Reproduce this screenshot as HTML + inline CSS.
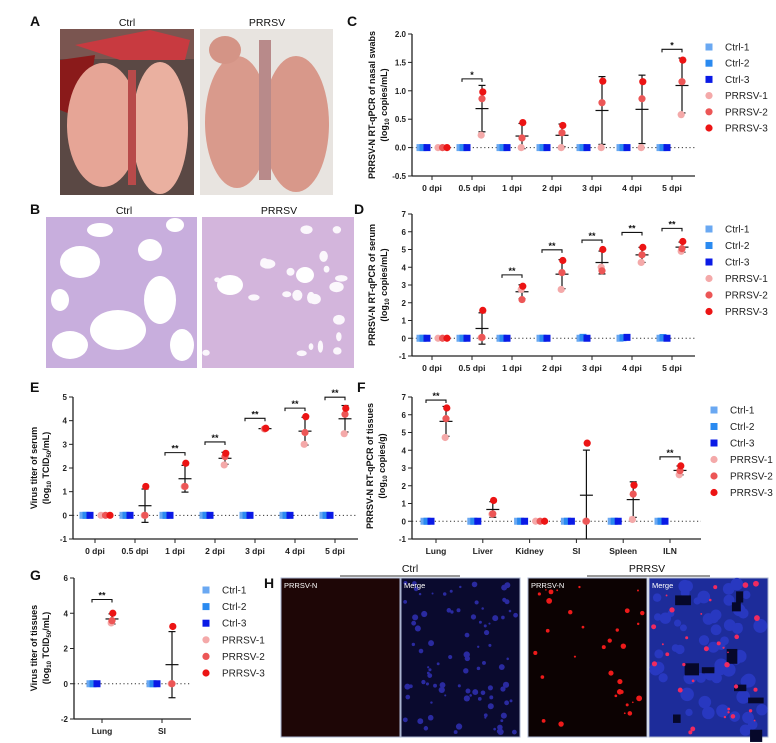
<!DOCTYPE html>
<html><head><meta charset="utf-8">
<style>
html,body{margin:0;padding:0;background:#fff;}
svg{display:block;font-family:"Liberation Sans",Arial,sans-serif;}
.tk{font-size:8px;font-weight:bold;fill:#222;}
.cat{font-size:8.5px;font-weight:bold;fill:#222;}
.lg{font-size:10px;fill:#222;}
.ttl{font-size:9px;font-weight:bold;fill:#111;}
.pl{font-size:14px;font-weight:bold;fill:#111;}
.cap{font-size:10.5px;fill:#111;}
.star{font-size:9px;font-weight:bold;fill:#111;}
</style></head>
<body>
<svg id="fig" width="776" height="743" viewBox="0 0 776 743">
  <text class="pl" x="30" y="26">A</text>
  <text class="cap" x="127" y="26" text-anchor="middle">Ctrl</text>
  <text class="cap" x="267" y="26" text-anchor="middle">PRRSV</text>
  <g>
    <rect x="60" y="29" width="134" height="166" fill="#5a4844"/>
    <rect x="60" y="29" width="134" height="30" fill="#7a5550"/>
    <path d="M75 45 L150 30 L190 40 L185 60 L120 60 Z" fill="#c83a40"/>
    <path d="M60 60 L95 55 L85 120 L60 110 Z" fill="#8a1a1a"/>
    <ellipse cx="103" cy="125" rx="36" ry="62" fill="#e6a596"/>
    <ellipse cx="160" cy="128" rx="28" ry="66" fill="#eab0a0"/>
    <rect x="128" y="70" width="8" height="115" fill="#b84a4a"/>
  </g>
  <g>
    <rect x="200" y="29" width="133" height="166" fill="#e8e4e0"/>
    <ellipse cx="237" cy="122" rx="32" ry="66" fill="#d99a8c"/>
    <ellipse cx="296" cy="124" rx="33" ry="68" fill="#d8988a"/>
    <ellipse cx="225" cy="50" rx="16" ry="14" fill="#d49486"/>
    <rect x="259" y="40" width="12" height="140" fill="#b88a8a"/>
  </g>
  <text class="pl" x="30" y="214">B</text>
  <text class="cap" x="124" y="214" text-anchor="middle">Ctrl</text>
  <text class="cap" x="279" y="214" text-anchor="middle">PRRSV</text>
  <g id="histoCtrl">
    <rect x="46" y="217" width="151" height="151" fill="#c8aedd"/>
  </g>
  <g id="histoPrrsv">
    <rect x="202" y="217" width="152" height="151" fill="#d3b5dc"/>
  </g>
  <text class="pl" x="347" y="26">C</text>
  <text class="pl" x="354" y="214">D</text>
  <text class="pl" x="30" y="392">E</text>
  <text class="pl" x="357" y="392">F</text>
  <text class="pl" x="30" y="580">G</text>
  <text class="pl" x="264" y="588">H</text>
  <text class="cap" x="410" y="572" text-anchor="middle">Ctrl</text>
  <line x1="340" y1="576" x2="460" y2="576" stroke="#333" stroke-width="1"/>
  <text class="cap" x="647" y="572" text-anchor="middle">PRRSV</text>
  <line x1="587" y1="576" x2="710" y2="576" stroke="#333" stroke-width="1"/>
  <g id="hTiles"></g>
  <g id="charts"></g>
</svg>
<script>
const seriesNames = ['Ctrl-1','Ctrl-2','Ctrl-3','PRRSV-1','PRRSV-2','PRRSV-3'];
const dpiCats = ['0 dpi','0.5 dpi','1 dpi','2 dpi','3 dpi','4 dpi','5 dpi'];
const tissueCats = ['Lung','Liver','Kidney','SI','Spleen','ILN'];
const titerCats = ['Lung','SI'];

const cTicks = [2.0,1.5,1.0,0.5,0.0,-0.5];
const cCtrl1 = [0,0,0,0,0,0,0];
const cCtrl2 = [0,0,0,0,0,0,0];
const cCtrl3 = [0,0,0,0,0,0,0];
const cP1 = [0,0.22,0,0,0,0,0.58];
const cP2 = [0,0.86,0.17,0.26,0.79,0.86,1.16];
const cP3 = [0,0.98,0.44,0.39,1.17,1.16,1.54];
const cSigIdx = [1,6];
const cSigY = [1.21,1.73];
const cSigLbl = ['*','*'];

const dTicks = [7,6,5,4,3,2,1,0,-1];
const dCtrl1 = [0,0,0,0,0,0,0];
const dCtrl2 = [0,0,0,0,0.05,0.03,0.04];
const dCtrl3 = [0,0,0,0,0,0.05,0];
const dP1 = [0,0.03,2.75,2.75,4.0,4.27,4.9];
const dP2 = [0,0.05,2.18,3.7,3.8,4.7,5.05];
const dP3 = [0,1.57,2.93,4.38,5.0,5.12,5.45];
const dSigIdx = [2,3,4,5,6];
const dSigY = [3.57,4.98,5.53,5.96,6.19];
const dSigLbl = ['**','**','**','**','**'];

const eTicks = [5,4,3,2,1,0,-1];
const eCtrl1 = [0,0,0,0,0,0,0];
const eCtrl2 = [0,0,0,0,0,0,0];
const eCtrl3 = [0,0,0,0,0,0,0];
const eP1 = [0,0,1.22,2.13,3.65,3.0,3.45];
const eP2 = [0,0,1.22,2.48,3.66,3.5,4.27];
const eP3 = [0,1.22,2.2,2.62,3.68,4.17,4.52];
const eSigIdx = [2,3,4,5,6];
const eSigY = [2.65,3.1,4.1,4.53,4.99];
const eSigLbl = ['**','**','**','**','**'];

const fTicks = [7,6,5,4,3,2,1,0,-1];
const fCtrl1 = [0,0,0,0,0,0];
const fCtrl2 = [0,0,0,0,0,0];
const fCtrl3 = [0,0,0,0,0,0];
const fP1 = [4.72,0.4,0,0,0.1,2.62];
const fP2 = [5.78,0.42,0,0,1.53,2.85];
const fP3 = [6.38,1.17,0,4.4,2.03,3.12];
const fSigIdx = [0,5];
const fSigY = [6.83,3.63];
const fSigLbl = ['**','**'];

const gTicks = [6,4,2,0,-2];
const gCtrl1 = [0,0];
const gCtrl2 = [0,0];
const gCtrl3 = [0,0];
const gP1 = [3.45,0];
const gP2 = [3.58,0];
const gP3 = [4.0,3.25];
const gSigIdx = [0];
const gSigY = [4.78];
const gSigLbl = ['**'];

const colors = ['#6aa8f2','#2a8af0','#0a1ae6','#f4a9a9','#ec5656','#ec1414'];
const NS='http://www.w3.org/2000/svg';
function mk(tag, attrs, parent){
  const e=document.createElementNS(NS,tag);
  for(const k in attrs) e.setAttribute(k,attrs[k]);
  if(parent) parent.appendChild(e);
  return e;
}
function meanOf(a){return a.reduce((s,v)=>s+v,0)/a.length;}
function sdOf(a){const m=meanOf(a);return Math.sqrt(a.reduce((s,v)=>s+(v-m)*(v-m),0)/(a.length-1));}

function drawChart(cfg){
  const root=document.getElementById('charts');
  const g=mk('g',{},root);
  
  
  const vmin=cfg.ticks[cfg.ticks.length-1], vmax=cfg.ticks[0];
  const yS=v=>cfg.yBot-(v-vmin)*(cfg.yBot-cfg.yTop)/(vmax-vmin);
  const xS=i=>cfg.x0+i*cfg.step;
  const ya=mk('line',{x1:cfg.ax,y1:cfg.yTop,x2:cfg.ax,y2:cfg.yBot,stroke:'#222','stroke-width':1.3},g);
  
  
  const xa=mk('line',{x1:cfg.ax,y1:cfg.yBot,x2:cfg.xEnd,y2:cfg.yBot,stroke:'#222','stroke-width':1.3},g);
  
  
  cfg.ticks.forEach(t=>{
    const y=yS(t);
    mk('line',{x1:cfg.ax-4,y1:y,x2:cfg.ax,y2:y,stroke:'#222','stroke-width':1},g);
    const tx=mk('text',{x:cfg.ax-6,y:y+3,'text-anchor':'end',class:'tk'},g);
    tx.textContent=cfg.fmt?t.toFixed(1):String(t);
    
    
  });
  const z=mk('line',{x1:cfg.ax,y1:yS(0),x2:cfg.xEnd,y2:yS(0),stroke:'#333','stroke-width':1,'stroke-dasharray':'1.2,2.6'},g);
  
  
  cfg.cats.forEach((c,i)=>{
    const x=xS(i);
    mk('line',{x1:x,y1:cfg.yBot,x2:x,y2:cfg.yBot+4,stroke:'#222','stroke-width':1},g);
    const tx=mk('text',{x:x,y:cfg.yBot+15,'text-anchor':'middle',class:'cat'},g);
    tx.textContent=c;
    
    
  });
  const tt=mk('text',{class:'ttl','text-anchor':'middle',transform:`translate(${cfg.tx1},${cfg.tyc}) rotate(-90)`},g);
  tt.textContent=cfg.title1;
  
  
  const t2=mk('text',{class:'ttl','text-anchor':'middle',transform:`translate(${cfg.tx1+12},${cfg.tyc}) rotate(-90)`},g);
  t2.innerHTML=cfg.title2;
  
  
  const ctrlDx=[-12,-9,-5];
  cfg.ctrl.forEach((arr,s)=>{
    arr.forEach((v,i)=>{
      const r=mk('rect',{x:xS(i)+ctrlDx[s]-3.5,y:yS(v)-3.5,width:7,height:7,fill:colors[s]},g);
      
      
    });
  });
  const pDx=[7,10,13];
  cfg.cats.forEach((c,i)=>{
    const vals=cfg.prrsv.map(a=>a[i]);
    const m=meanOf(vals), sd=sdOf(vals);
    if(sd>0.001){
      const cx=xS(i)+10;
      const eg=mk('g',{stroke:'#111','stroke-width':1.2},g);
      
      
      mk('line',{x1:cx,y1:yS(m+sd),x2:cx,y2:Math.min(yS(m-sd),cfg.yBot)},eg);
      mk('line',{x1:cx-3.5,y1:yS(m+sd),x2:cx+3.5,y2:yS(m+sd)},eg);
      if(yS(m-sd)<cfg.yBot) mk('line',{x1:cx-3.5,y1:yS(m-sd),x2:cx+3.5,y2:yS(m-sd)},eg);
      mk('line',{x1:cx-6.5,y1:yS(m),x2:cx+6.5,y2:yS(m)},eg);
    }
  });
  cfg.prrsv.forEach((arr,s)=>{
    arr.forEach((v,i)=>{
      const allZero=cfg.prrsv.every(a=>Math.abs(a[i]-v)<0.01);
      const dx=allZero?pDx[s]-1+ s*1.5 : 10+(s-1)*0.8;
      const ci=mk('circle',{cx:xS(i)+dx,cy:yS(v),r:3.6,fill:colors[s+3]},g);
      
      
    });
  });
  cfg.sigIdx.forEach((idx,k)=>{
    const y=yS(cfg.sigY[k]);
    const x1=xS(idx)-10, x2=xS(idx)+10;
    const b=mk('path',{d:`M${x1} ${y+3} V${y} H${x2} V${y+3}`,fill:'none',stroke:'#111','stroke-width':1.1},g);
    
    
    const st=mk('text',{x:(x1+x2)/2,y:y-1,'text-anchor':'middle',class:'star'},g);
    st.textContent=cfg.sigLbl[k];
    
    
  });
  if(cfg.legend){
    seriesNames.forEach((n,s)=>{
      const y=cfg.lgY[s];
      let m;
      if(s<3) m=mk('rect',{x:cfg.lgX-3.5,y:y-3.5,width:7,height:7,fill:colors[s]},g);
      else m=mk('circle',{cx:cfg.lgX,cy:y,r:3.6,fill:colors[s]},g);
      
      
      const t=mk('text',{x:cfg.lgX+16,y:y+3.5,class:'lg'},g);
      t.textContent=n;
      
      
    });
  }
}
function lgSeq(y0,d){return [0,1,2,3,4,5].map(k=>y0+k*d);}
const sub10='(log<tspan font-size="6" dy="2">10</tspan><tspan dy="-2"> copies/mL)</tspan>';
const subT='(log<tspan font-size="6" dy="2">10</tspan><tspan dy="-2"> TCID</tspan><tspan font-size="6" dy="2">50</tspan><tspan dy="-2">/mL)</tspan>';
drawChart({name:'chart-c-nasal-swabs',ticks:cTicks,fmt:true,ax:412,xEnd:695,yTop:34,yBot:176,x0:432,step:40,cats:dpiCats,
  ctrl:[cCtrl1,cCtrl2,cCtrl3],prrsv:[cP1,cP2,cP3],sigIdx:cSigIdx,sigY:cSigY,sigLbl:cSigLbl,
  title1:'PRRSV-N RT-qPCR of nasal swabs',title2:sub10,tx1:375,tyc:105,legend:true,lgX:709,lgY:lgSeq(47,16.2)});
drawChart({name:'chart-d-serum-rtqpcr',ticks:dTicks,ax:412,xEnd:695,yTop:214,yBot:356,x0:432,step:40,cats:dpiCats,
  ctrl:[dCtrl1,dCtrl2,dCtrl3],prrsv:[dP1,dP2,dP3],sigIdx:dSigIdx,sigY:dSigY,sigLbl:dSigLbl,
  title1:'PRRSV-N RT-qPCR of serum',title2:sub10,tx1:375,tyc:285,legend:true,lgX:709,lgY:lgSeq(229,16.5)});
drawChart({name:'chart-e-serum-titer',ticks:eTicks,ax:73,xEnd:358,yTop:397,yBot:539,x0:95,step:40,cats:dpiCats,
  ctrl:[eCtrl1,eCtrl2,eCtrl3],prrsv:[eP1,eP2,eP3],sigIdx:eSigIdx,sigY:eSigY,sigLbl:eSigLbl,
  title1:'Virus titer of serum',title2:subT,tx1:37,tyc:468,legend:false});
drawChart({name:'chart-f-tissue-rtqpcr',ticks:fTicks,ax:412,xEnd:701,yTop:397,yBot:539,x0:436,step:46.8,cats:tissueCats,
  ctrl:[fCtrl1,fCtrl2,fCtrl3],prrsv:[fP1,fP2,fP3],sigIdx:fSigIdx,sigY:fSigY,sigLbl:fSigLbl,
  title1:'PRRSV-N RT-qPCR of tissues',title2:'(log<tspan font-size="6" dy="2">10</tspan><tspan dy="-2"> copies/g)</tspan>',tx1:373,tyc:466,legend:true,lgX:714,lgY:lgSeq(410,16.5)});
drawChart({name:'chart-g-tissue-titer',ticks:gTicks,ax:74,xEnd:191,yTop:578,yBot:719,x0:102,step:60,cats:titerCats,
  ctrl:[gCtrl1,gCtrl2,gCtrl3],prrsv:[gP1,gP2,gP3],sigIdx:gSigIdx,sigY:gSigY,sigLbl:gSigLbl,
  title1:'Virus titer of tissues',title2:subT,tx1:37,tyc:648,legend:true,lgX:206,lgY:lgSeq(590,16.6)});

let seed=7;function rnd(){seed=(seed*16807)%2147483647;return seed/2147483647;}
const hc=document.getElementById('histoCtrl');
[[80,262,20,16],[118,330,28,20],[160,300,16,24],[70,345,18,14],[150,250,12,11],[182,345,12,16],[100,230,13,7],[175,225,9,7],[60,300,9,11]].forEach(h=>{
  mk('ellipse',{cx:h[0],cy:h[1],rx:h[2],ry:h[3],fill:'#fff'},hc);
});
const hp=document.getElementById('histoPrrsv');
for(let k=0;k<22;k++){mk('ellipse',{cx:206+rnd()*144,cy:222+rnd()*142,rx:2+rnd()*6,ry:2+rnd()*5,fill:'#fbf7fc'},hp);}
mk('ellipse',{cx:230,cy:285,rx:13,ry:10,fill:'#fff'},hp);
mk('ellipse',{cx:305,cy:275,rx:9,ry:8,fill:'#fff'},hp);
const ht=document.getElementById('hTiles');
const tiles=[[281,'#1e0606','PRRSV-N'],[401,'#0a0a2e','Merge'],[528,'#0c0202','PRRSV-N'],[649,'#1d2c9a','Merge']];
tiles.forEach((t,i)=>{
  mk('rect',{x:t[0],y:578,width:119,height:159,fill:t[1],stroke:'#aab4d0','stroke-width':1},ht);
  if(i==1){for(let k=0;k<90;k++) mk('circle',{cx:t[0]+4+rnd()*111,cy:582+rnd()*151,r:1+rnd()*2.2,fill:'#2a2aa0'},ht);}
  if(i==3){for(let k=0;k<60;k++) mk('circle',{cx:t[0]+4+rnd()*111,cy:582+rnd()*151,r:3+rnd()*4,fill:'#2838c0'},ht);
    for(let k=0;k<10;k++) mk('rect',{x:t[0]+8+rnd()*100,y:590+rnd()*140,width:6+rnd()*10,height:5+rnd()*10,fill:'#06082a'},ht);}
  if(i>=2){for(let k=0;k<32;k++) mk('circle',{cx:t[0]+4+rnd()*111,cy:582+rnd()*151,r:0.8+rnd()*2.2,fill:i==2?'#ee1a1a':'#f02a60'},ht);}
  const lb=mk('text',{x:t[0]+3,y:588,fill:'#fff','font-size':'7.5'},ht);
  lb.textContent=t[2];
  
  
});
</script>
</body></html>
